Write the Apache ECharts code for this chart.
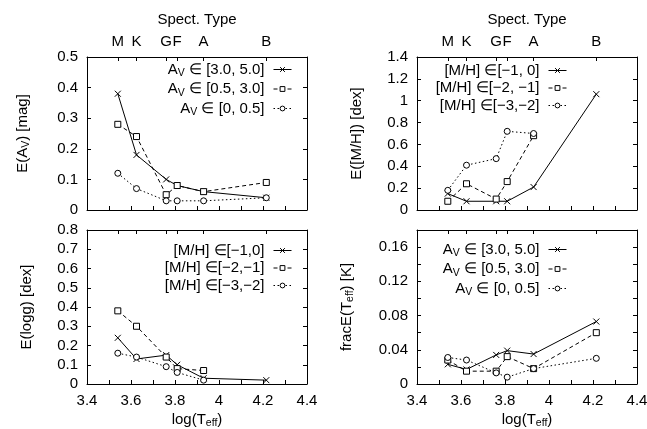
<!DOCTYPE html>
<html><head><meta charset="utf-8">
<script src="https://cdn.jsdelivr.net/npm/echarts@6/dist/echarts.min.js"></script>
<style>html,body{margin:0;padding:0;background:#fff}#c{width:647px;height:429px}</style>
</head><body><div id="c"></div>
<script>
// ---- data ----
const logTeff = [3.54, 3.625, 3.76, 3.81, 3.93, 4.215];
const spectTypes = ['M', 'K', 'G', 'F', 'A', 'B'];
const xBottomTicks = [3.4, 3.6, 3.8, 4.0, 4.2, 4.4];

const eAvHigh = [0.38, 0.18, 0.10, 0.08, 0.06, 0.04];
const eAvMid  = [0.28, 0.24, 0.05, 0.08, 0.06, 0.09];
const eAvLow  = [0.12, 0.07, 0.03, 0.03, 0.03, 0.04];

const eMHm1 = [0.15, 0.08, 0.08, 0.08, 0.21, 1.06];
const eMHm2 = [0.08, 0.24, 0.10, 0.26, 0.68, null];
const eMHm3 = [0.18, 0.41, 0.47, 0.72, 0.70, null];

const eLoggM1 = [0.24, 0.13, 0.15, 0.10, 0.03, 0.02];
const eLoggM2 = [0.38, 0.30, 0.14, 0.08, 0.07, null];
const eLoggM3 = [0.16, 0.14, 0.09, 0.06, 0.02, null];

const fracTeffHigh = [0.023, 0.017, 0.034, 0.039, 0.035, 0.073];
const fracTeffMid  = [0.028, 0.015, 0.015, 0.032, 0.018, 0.060];
const fracTeffLow  = [0.031, 0.028, 0.013, 0.008, 0.018, 0.030];

const avLegend = ['{a|A}{s|V}{a| \u2208 [3.0, 5.0]}', '{a|A}{s|V}{a| \u2208 [0.5, 3.0]}', '{a|A}{s|V}{a| \u2208 [0, 0.5]}'];
const mhLegendTop = ['{a|[M/H] \u2208[\u22121, 0]}', '{a|[M/H] \u2208[\u22122, \u22121]}', '{a|[M/H] \u2208[\u22123,\u22122]}'];
const mhLegendBot = ['{a|[M/H] \u2208[\u22121,0]}', '{a|[M/H] \u2208[\u22122,\u22121]}', '{a|[M/H] \u2208[\u22123,\u22122]}'];

const yNames = ['{a|E(A}{s|V}{a|) [mag]}', '{a|E([M/H]) [dex]}', '{a|E(logg) [dex]}', '{a|fracE(T}{s|eff}{a|) [K]}'];

// ---- styling ----
const FONT = '"Liberation Sans", Arial, sans-serif';
const FS = 15;
const rich = {
  a: {fontSize: FS, fontFamily: FONT, color: '#000', lineHeight: 19},
  s: {fontSize: 10.5, fontFamily: FONT, color: '#000', lineHeight: 11, verticalAlign: 'bottom'}
};
const grids = [
  {left: 87, top: 57, width: 220, height: 153, outerBoundsMode: 'none', containLabel: false},
  {left: 417, top: 57, width: 220, height: 153, outerBoundsMode: 'none', containLabel: false},
  {left: 87, top: 230, width: 220, height: 154, outerBoundsMode: 'none', containLabel: false},
  {left: 417, top: 230, width: 220, height: 154, outerBoundsMode: 'none', containLabel: false}
];
const yCfg = [
  {min: 0, max: 0.5, interval: 0.1, gap: 55},
  {min: 0, max: 1.4, interval: 0.2, gap: 51},
  {min: 0, max: 0.8, interval: 0.1, gap: 51},
  {min: 0, max: 0.18, interval: 0.02, gap: 61, every: 2, hideMax: true}
];
const axisLine = {show: true, onZero: false, lineStyle: {color: '#000', width: 1}};
const lbl = {color: '#000', fontSize: FS, fontFamily: FONT};

const xAxes = [], yAxes = [];
grids.forEach((g, i) => {
  const isTop = i < 2;
  xAxes.push({
    type: 'value', gridIndex: i, position: 'bottom', min: 3.4, max: 4.4, interval: 0.1,
    axisLine, splitLine: {show: false},
    axisTick: {show: true, inside: true, length: 4, lineStyle: {color: '#000'}},
    axisLabel: isTop ? {show: false} : Object.assign({}, lbl, {margin: 9, customValues: xBottomTicks,
      formatter: v => (Math.round(v * 10) / 10).toString()}),
    name: isTop ? '' : '{a|log(T}{s|eff}{a|)}', nameLocation: 'middle', nameGap: 26,
    nameTextStyle: {rich}
  });
  xAxes.push({
    type: 'value', gridIndex: i, position: 'top', min: 3.4, max: 4.4,
    axisLine, splitLine: {show: false},
    axisTick: {show: true, inside: true, length: 4, customValues: logTeff, lineStyle: {color: '#000'}},
    axisLabel: isTop ? Object.assign({}, lbl, {margin: 8, customValues: logTeff,
      formatter: v => spectTypes[logTeff.indexOf(v)] || ''}) : {show: false},
    name: isTop ? 'Spect. Type' : '', nameLocation: 'middle', nameGap: 30,
    nameTextStyle: {color: '#000', fontSize: FS, fontFamily: FONT}
  });
  const c = yCfg[i];
  yAxes.push({
    type: 'value', gridIndex: i, position: 'left', min: c.min, max: c.max, interval: c.interval,
    axisLine, splitLine: {show: false},
    axisTick: {show: true, inside: true, length: 4, lineStyle: {color: '#000'}},
    axisLabel: Object.assign({}, lbl, {margin: 9, showMaxLabel: !c.hideMax,
      formatter: v => {
        const k = Math.round(v / c.interval);
        if (c.every && k % c.every !== 0) return '';
        if (c.hideMax && Math.abs(v - c.max) < 1e-9) return '';
        return parseFloat(v.toFixed(4)).toString();
      }}),
    name: yNames[i], nameLocation: 'middle', nameGap: c.gap, nameRotate: 90,
    nameTextStyle: {rich}
  });
  yAxes.push({
    type: 'value', gridIndex: i, position: 'right', min: c.min, max: c.max, interval: c.interval,
    axisLine, splitLine: {show: false},
    axisTick: {show: true, inside: true, length: 4, lineStyle: {color: '#000'}},
    axisLabel: {show: false}
  });
});

const crossPath = 'path://M0,0L10,10M10,0L0,10';
const styles = [
  {symbol: crossPath, type: 'solid'},
  {symbol: 'rect', type: [4, 3]},
  {symbol: 'circle', type: [1.5, 2.5]}
];
const panels = [
  [eAvHigh, eAvMid, eAvLow],
  [eMHm1, eMHm2, eMHm3],
  [eLoggM1, eLoggM2, eLoggM3],
  [fracTeffHigh, fracTeffMid, fracTeffLow]
];
const legendTexts = [avLegend, mhLegendTop, mhLegendBot, avLegend];
const nameMap = {};
const series = [];
panels.forEach((arrs, p) => {
  arrs.forEach((vals, k) => {
    const name = 'p' + p + 's' + k;
    nameMap[name] = legendTexts[p][k];
    const st = styles[k];
    series.push({
      name, type: 'line', xAxisIndex: 2 * p, yAxisIndex: 2 * p,
      data: logTeff.map((x, j) => [x, vals[j]]).filter(d => d[1] !== null),
      symbol: st.symbol, symbolSize: 6, showSymbol: true,
      lineStyle: {color: '#000', width: 1, type: st.type},
      itemStyle: {color: k === 0 ? '#000' : '#fff', borderColor: '#000', borderWidth: 1},
      emphasis: {disabled: true}, animation: false
    });
  });
});

const legendPos = [
  {right: 355, top: 62},
  {right: 80, top: 63},
  {right: 355, top: 243},
  {right: 80, top: 242}
];
const legends = legendPos.map((pos, p) => ({
  right: pos.right, top: pos.top, orient: 'vertical', align: 'right', padding: 0,
  itemWidth: 18, itemHeight: 6, itemGap: 2.5,
  data: [0, 1, 2].map(k => 'p' + p + 's' + k),
  formatter: n => nameMap[n],
  textStyle: {rich, padding: [0, 4, 0, 0]},
  itemStyle: {borderWidth: 1, borderColor: '#000'},
  lineStyle: {width: 1, color: '#000'},
  selectedMode: false
}));

const chart = echarts.init(document.getElementById('c'), null, {renderer: 'canvas'});
chart.setOption({
  animation: false,
  backgroundColor: '#fff',
  grid: grids,
  xAxis: xAxes,
  yAxis: yAxes,
  legend: legends,
  series
});
</script></body></html>
